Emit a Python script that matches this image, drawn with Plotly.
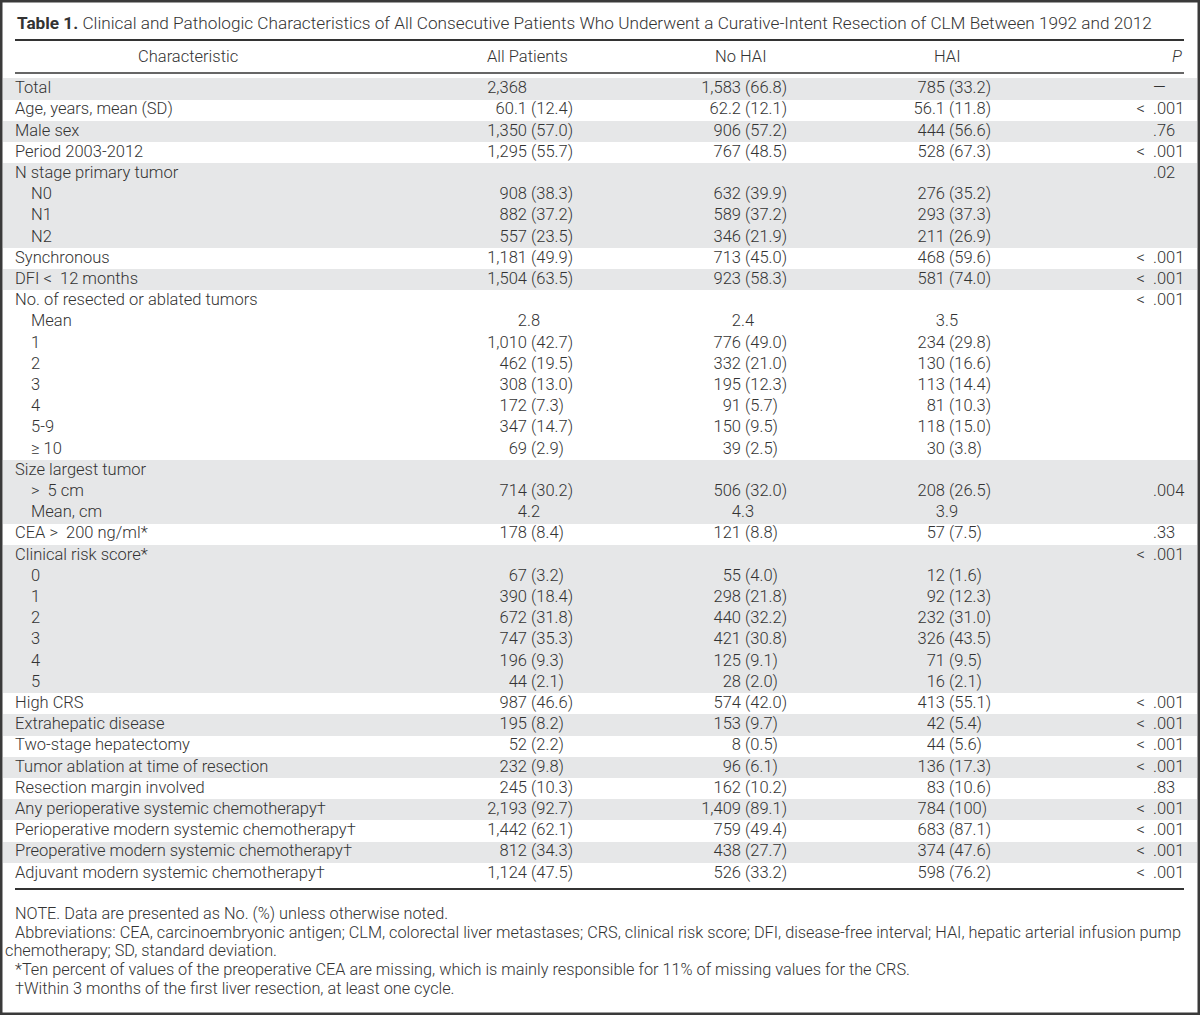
import plotly.graph_objects as go

# ---- table data -------------------------------------------------------------
labels = [
    "Total", "Age, years, mean (SD)", "Male sex", "Period 2003-2012",
    "N stage primary tumor", "N0", "N1", "N2",
    "Synchronous", "DFI < 12 months",
    "No. of resected or ablated tumors", "Mean", "1", "2", "3", "4", "5-9", "≥ 10",
    "Size largest tumor", "> 5 cm", "Mean, cm",
    "CEA > 200 ng/ml*",
    "Clinical risk score*", "0", "1", "2", "3", "4", "5",
    "High CRS", "Extrahepatic disease", "Two-stage hepatectomy",
    "Tumor ablation at time of resection", "Resection margin involved",
    "Any perioperative systemic chemotherapy†",
    "Perioperative modern systemic chemotherapy†",
    "Preoperative modern systemic chemotherapy†",
    "Adjuvant modern systemic chemotherapy†",
]
level = [0, 0, 0, 0, 0, 1, 1, 1, 0, 0, 0, 1, 1, 1, 1, 1, 1, 1, 0, 1, 1, 0,
         0, 1, 1, 1, 1, 1, 1, 0, 0, 0, 0, 0, 0, 0, 0, 0]
shaded = [1, 0, 1, 0, 1, 1, 1, 1, 0, 1, 0, 0, 0, 0, 0, 0, 0, 0, 1, 1, 1, 0,
          1, 1, 1, 1, 1, 1, 1, 0, 1, 0, 1, 0, 1, 0, 1, 0]

all_patients = [
    "2,368", "60.1 (12.4)", "1,350 (57.0)", "1,295 (55.7)",
    "", "908 (38.3)", "882 (37.2)", "557 (23.5)",
    "1,181 (49.9)", "1,504 (63.5)",
    "", "2.8", "1,010 (42.7)", "462 (19.5)", "308 (13.0)", "172 (7.3)", "347 (14.7)", "69 (2.9)",
    "", "714 (30.2)", "4.2",
    "178 (8.4)",
    "", "67 (3.2)", "390 (18.4)", "672 (31.8)", "747 (35.3)", "196 (9.3)", "44 (2.1)",
    "987 (46.6)", "195 (8.2)", "52 (2.2)", "232 (9.8)", "245 (10.3)",
    "2,193 (92.7)", "1,442 (62.1)", "812 (34.3)", "1,124 (47.5)",
]
no_hai = [
    "1,583 (66.8)", "62.2 (12.1)", "906 (57.2)", "767 (48.5)",
    "", "632 (39.9)", "589 (37.2)", "346 (21.9)",
    "713 (45.0)", "923 (58.3)",
    "", "2.4", "776 (49.0)", "332 (21.0)", "195 (12.3)", "91 (5.7)", "150 (9.5)", "39 (2.5)",
    "", "506 (32.0)", "4.3",
    "121 (8.8)",
    "", "55 (4.0)", "298 (21.8)", "440 (32.2)", "421 (30.8)", "125 (9.1)", "28 (2.0)",
    "574 (42.0)", "153 (9.7)", "8 (0.5)", "96 (6.1)", "162 (10.2)",
    "1,409 (89.1)", "759 (49.4)", "438 (27.7)", "526 (33.2)",
]
hai = [
    "785 (33.2)", "56.1 (11.8)", "444 (56.6)", "528 (67.3)",
    "", "276 (35.2)", "293 (37.3)", "211 (26.9)",
    "468 (59.6)", "581 (74.0)",
    "", "3.5", "234 (29.8)", "130 (16.6)", "113 (14.4)", "81 (10.3)", "118 (15.0)", "30 (3.8)",
    "", "208 (26.5)", "3.9",
    "57 (7.5)",
    "", "12 (1.6)", "92 (12.3)", "232 (31.0)", "326 (43.5)", "71 (9.5)", "16 (2.1)",
    "413 (55.1)", "42 (5.4)", "44 (5.6)", "136 (17.3)", "83 (10.6)",
    "784 (100)", "683 (87.1)", "374 (47.6)", "598 (76.2)",
]
p_values = [
    "—", "< .001", ".76", "< .001",
    ".02", "", "", "",
    "< .001", "< .001",
    "< .001", "", "", "", "", "", "", "",
    "", ".004", "",
    ".33",
    "< .001", "", "", "", "", "", "",
    "< .001", "< .001", "< .001", "< .001", ".83",
    "< .001", "< .001", "< .001", "< .001",
]
headers = ["Characteristic", "All Patients", "No HAI", "HAI", "<i>P</i>"]

title = ("<b>Table 1.</b> Clinical and Pathologic Characteristics of All Consecutive "
         "Patients Who Underwent a Curative-Intent Resection of CLM Between 1992 and 2012")
footnotes = [
    "NOTE. Data are presented as No. (%) unless otherwise noted.",
    "Abbreviations: CEA, carcinoembryonic antigen; CLM, colorectal liver metastases; CRS, "
    "clinical risk score; DFI, disease-free interval; HAI, hepatic arterial infusion pump",
    "chemotherapy; SD, standard deviation.",
    "*Ten percent of values of the preoperative CEA are missing, which is mainly "
    "responsible for 11% of missing values for the CRS.",
    "†Within 3 months of the first liver resection, at least one cycle.",
]

# ---- layout constants (pixels) ---------------------------------------------
W, H = 1200, 1015
ROW_PX = 21.2
FIRST_ROW_PX = 89
FAMILY = "Roboto"
INK = "#333333"
SHADE = "#e6e7e8"
col_x = {"all": 527, "no": 741, "hai": 945, "p": 1153}
head_x = [188, 527, 741, 947, 1177]
label_x = [15, 31]

font = dict(family=FAMILY, size=16.5, color=INK, weight=300)
note_font = dict(family=FAMILY, size=16.3, color=INK, weight=300)


def py(px):
    return 1 - px / H


def split_num(s):
    # counts align on the space before the bracket, bare means on the decimal point
    i = s.find(" ")
    if i < 0:
        i = s.find(".")
    if i < 0:
        return s, ""
    return s[:i], s[i:].replace(" ", "\u00a0")


def split_p(s):
    i = s.find(".")
    if i < 0:
        return "", s
    return s[:i].replace(" ", "\u00a0\u00a0"), s[i:]


rows = list(range(len(labels)))

fig = go.Figure()

# row shading
shade_rows = [r for r in rows if shaded[r]]
fig.add_trace(go.Bar(
    y=shade_rows, x=[W - 6] * len(shade_rows), base=3, orientation="h",
    width=1, marker=dict(color=SHADE, line=dict(width=0)), hoverinfo="skip"
))

# labels
fig.add_trace(go.Scatter(
    x=[label_x[lv] for lv in level], y=rows, mode="text",
    text=[t.replace(" < ", "\u00a0<\u00a0\u00a0").replace("> ", ">\u00a0\u00a0") for t in labels],
    textposition="middle right", textfont=font, hoverinfo="skip"
))

# numeric columns
for key, col in (("all", all_patients), ("no", no_hai), ("hai", hai)):
    parts = [split_num(s) for s in col]
    fig.add_trace(go.Scatter(
        x=[col_x[key]] * len(rows), y=rows, mode="text", text=[a for a, b in parts],
        textposition="middle left", textfont=font, hoverinfo="skip"
    ))
    fig.add_trace(go.Scatter(
        x=[col_x[key]] * len(rows), y=rows, mode="text", text=[b for a, b in parts],
        textposition="middle right", textfont=font, hoverinfo="skip"
    ))

# P column, aligned on the decimal point
parts = [split_p(s) for s in p_values]
fig.add_trace(go.Scatter(
    x=[col_x["p"]] * len(rows), y=rows, mode="text", text=[a for a, b in parts],
    textposition="middle left", textfont=font, hoverinfo="skip"
))
fig.add_trace(go.Scatter(
    x=[col_x["p"]] * len(rows), y=rows, mode="text", text=[b for a, b in parts],
    textposition="middle right", textfont=font, hoverinfo="skip"
))

top = -FIRST_ROW_PX / ROW_PX
fig.update_layout(
    width=W, height=H, margin=dict(l=0, r=0, t=0, b=0),
    paper_bgcolor="white", plot_bgcolor="white", showlegend=False,
    bargap=0,
    xaxis=dict(range=[0, W], visible=False, fixedrange=True),
    yaxis=dict(range=[top + H / ROW_PX, top], visible=False, fixedrange=True),
    font=font,
)

# title, header and footnotes
fig.add_annotation(xref="x", yref="paper", x=15, y=py(23), text=title,
                   xanchor="left", yanchor="middle", showarrow=False,
                   font=dict(font, size=17.2))
for hx, h in zip(head_x, headers):
    fig.add_annotation(xref="x", yref="paper", x=hx, y=py(57), text=h,
                       xanchor="center", yanchor="middle", showarrow=False, font=font)
for fy, fx, t in zip([913, 932, 950, 969, 988], [13, 13, 3, 13, 13], footnotes):
    fig.add_annotation(xref="x", yref="paper", x=fx, y=py(fy), text=t,
                       xanchor="left", yanchor="middle", showarrow=False, font=note_font)

# rules and frame
for ry, lw in ((40, 2), (73, 1.5), (889, 2)):
    fig.add_shape(type="line", xref="x", yref="paper", x0=15, x1=1184,
                  y0=py(ry), y1=py(ry), line=dict(color="#333333", width=lw))
fig.add_shape(type="rect", xref="paper", yref="paper", x0=0, x1=1, y0=0, y1=1,
              line=dict(color="#3a3a3a", width=5))

fig.write_html("out.html", config={"displayModeBar": False},
               post_script="document.body.style.margin = '0';")
